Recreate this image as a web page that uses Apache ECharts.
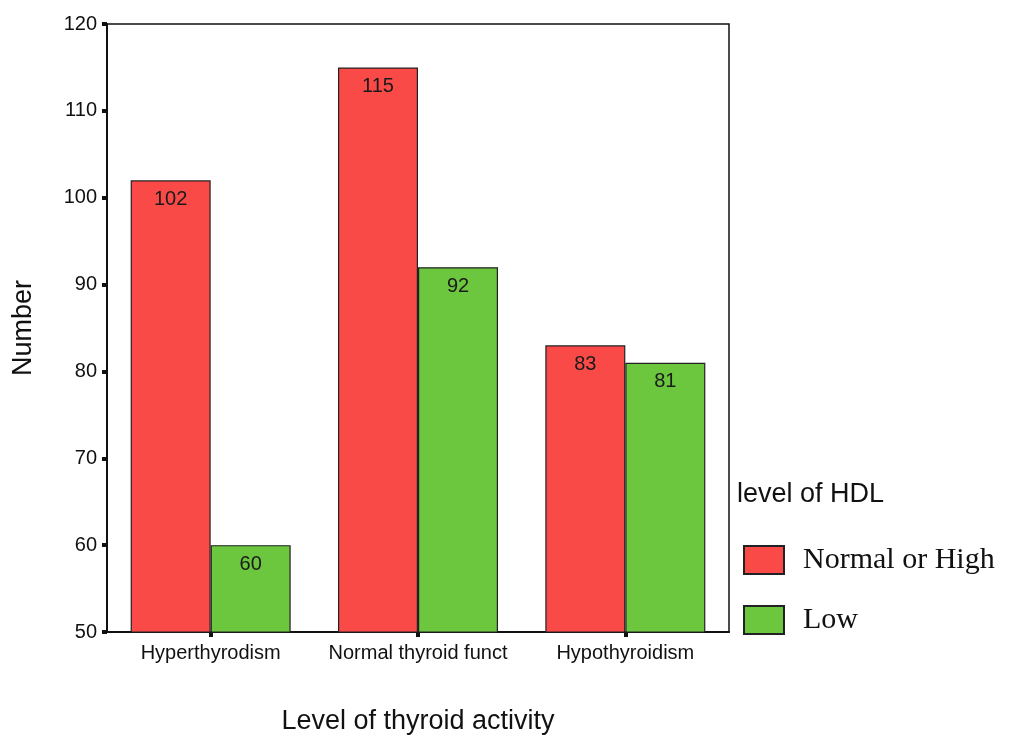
<!DOCTYPE html>
<html>
<head>
<meta charset="utf-8">
<script src="https://cdn.jsdelivr.net/npm/echarts@6/dist/echarts.min.js"></script>
<style>html,body{margin:0;padding:0;background:#fff;}#c{width:1009px;height:736px;}</style>
</head>
<body>
<div id="c"></div>
<script>
const categories = ['Hyperthyrodism', 'Normal thyroid funct', 'Hypothyroidism'];
const normalOrHigh = [102, 115, 83];
const low = [60, 92, 81];
const yTicks = [50, 60, 70, 80, 90, 100, 110, 120];
const seriesNames = ['Normal or High', 'Low'];

const SANS = 'Liberation Sans, Arial, sans-serif';
const chart = echarts.init(document.getElementById('c'));
const labelStyle = {
  show: true, position: 'insideTop', distance: 9,
  color: '#1a1a1a', fontSize: 20, fontFamily: SANS
};
chart.setOption({
  backgroundColor: '#ffffff',
  animation: false,
  grid: {
    left: 107, right: 280, top: 24, bottom: 104,
    outerBoundsMode: 'none', containLabel: false,
    show: true, borderColor: '#111', borderWidth: 1.5, backgroundColor: 'transparent'
  },
  title: {
    text: 'level of HDL', left: 732, top: 476,
    textStyle: { fontSize: 27, fontWeight: 'normal', color: '#111', fontFamily: SANS }
  },
  legend: {
    orient: 'vertical', left: 738, top: 540,
    itemWidth: 40, itemHeight: 28, itemGap: 30,
    icon: 'rect',
    data: seriesNames,
    textStyle: { fontSize: 30, color: '#111', fontFamily: 'Liberation Serif, Times New Roman, serif', padding: [4, 0, 0, 14] }
  },
  xAxis: {
    type: 'category',
    data: categories,
    name: 'Level of thyroid activity',
    nameLocation: 'middle', nameGap: 76,
    nameTextStyle: { fontSize: 27, color: '#111', fontFamily: SANS },
    axisLine: { lineStyle: { color: '#111', width: 2 } },
    axisTick: { show: true, alignWithLabel: true, length: 5, lineStyle: { color: '#111', width: 4 } },
    axisLabel: { fontSize: 20, color: '#111', margin: 11, interval: 0, hideOverlap: false, fontFamily: SANS }
  },
  yAxis: {
    type: 'value', min: 50, max: 120, interval: 10,
    name: 'Number', nameLocation: 'middle', nameGap: 70, nameRotate: 90,
    nameTextStyle: { fontSize: 27, color: '#111', fontFamily: SANS },
    axisLine: { show: true, lineStyle: { color: '#111', width: 2 } },
    axisTick: { show: true, length: 5, lineStyle: { color: '#111', width: 4 } },
    splitLine: { show: false },
    axisLabel: {
      fontSize: 20, color: '#111', margin: 10, fontFamily: SANS,
      formatter: v => yTicks.includes(v) ? String(v) : ''
    }
  },
  series: [
    {
      name: seriesNames[0], type: 'bar', data: normalOrHigh,
      barWidth: 80, barGap: '0%',
      itemStyle: { color: '#f94a48', borderColor: '#222', borderWidth: 1.2 },
      label: labelStyle
    },
    {
      name: seriesNames[1], type: 'bar', data: low,
      barWidth: 80, barGap: '0%',
      itemStyle: { color: '#6cc63e', borderColor: '#222', borderWidth: 1.2 },
      label: labelStyle
    }
  ]
});
</script>
</body>
</html>
